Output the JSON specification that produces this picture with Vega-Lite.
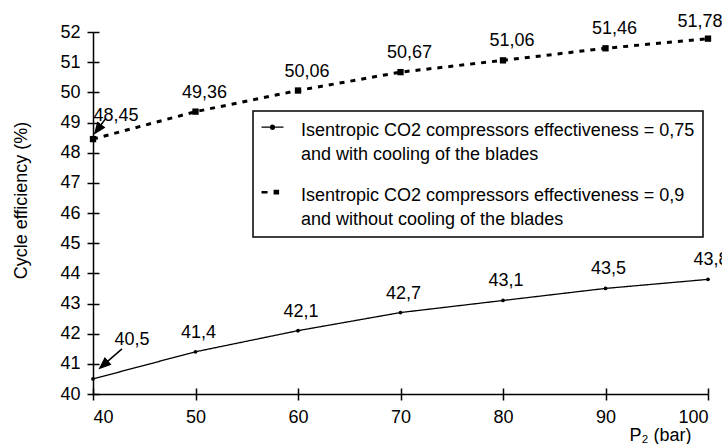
{
  "$schema": "https://vega.github.io/schema/vega-lite/v6.json",
  "width": 615,
  "height": 362,
  "autosize": {"type": "none"},
  "padding": {"left": 93, "top": 32, "right": 14, "bottom": 50},
  "background": "white",
  "config": {
    "font": "Liberation Sans",
    "locale": {"number": {"decimal": ",", "thousands": ".", "grouping": [3], "currency": ["", ""]}},
    "view": {"stroke": null},
    "style": {"guide-label": {"lineHeight": 24}},
    "axis": {
      "domainColor": "black", "domainWidth": 1.5,
      "tickColor": "black", "tickWidth": 1.5, "tickSize": 6,
      "labelColor": "black", "labelFontSize": 18, "labelFont": "Liberation Sans",
      "titleFont": "Liberation Sans", "titleFontSize": 18, "titleFontWeight": "normal", "titleColor": "black",
      "grid": true, "gridColor": "black", "gridWidth": 1.5, "gridOpacity": 1, "labelOverlap": false
    },
    "legend": {
      "orient": "none", "legendX": 160, "legendY": 79,
      "strokeColor": "black", "strokeWidth": 1.5, "padding": 8, "fillColor": "white",
      "labelFont": "Liberation Sans", "labelFontSize": 18, "labelColor": "black", "labelLimit": 0,
      "symbolSize": 484, "labelOffset": 17, "rowPadding": 20,
      "symbolFillColor": "black", "symbolStrokeColor": "black", "symbolStrokeWidth": 0.5, "symbolOpacity": 1
    }
  },
  "datasets": {
    "curves": [
      {"p": 40, "eff": 40.5, "series": "Isentropic CO2 compressors effectiveness = 0,75|and with cooling of the blades"},
      {"p": 50, "eff": 41.4, "series": "Isentropic CO2 compressors effectiveness = 0,75|and with cooling of the blades"},
      {"p": 60, "eff": 42.1, "series": "Isentropic CO2 compressors effectiveness = 0,75|and with cooling of the blades"},
      {"p": 70, "eff": 42.7, "series": "Isentropic CO2 compressors effectiveness = 0,75|and with cooling of the blades"},
      {"p": 80, "eff": 43.1, "series": "Isentropic CO2 compressors effectiveness = 0,75|and with cooling of the blades"},
      {"p": 90, "eff": 43.5, "series": "Isentropic CO2 compressors effectiveness = 0,75|and with cooling of the blades"},
      {"p": 100, "eff": 43.8, "series": "Isentropic CO2 compressors effectiveness = 0,75|and with cooling of the blades"},
      {"p": 40, "eff": 48.45, "series": "Isentropic CO2 compressors effectiveness = 0,9|and without cooling of the blades"},
      {"p": 50, "eff": 49.36, "series": "Isentropic CO2 compressors effectiveness = 0,9|and without cooling of the blades"},
      {"p": 60, "eff": 50.06, "series": "Isentropic CO2 compressors effectiveness = 0,9|and without cooling of the blades"},
      {"p": 70, "eff": 50.67, "series": "Isentropic CO2 compressors effectiveness = 0,9|and without cooling of the blades"},
      {"p": 80, "eff": 51.06, "series": "Isentropic CO2 compressors effectiveness = 0,9|and without cooling of the blades"},
      {"p": 90, "eff": 51.46, "series": "Isentropic CO2 compressors effectiveness = 0,9|and without cooling of the blades"},
      {"p": 100, "eff": 51.78, "series": "Isentropic CO2 compressors effectiveness = 0,9|and without cooling of the blades"}
    ]
  },
  "data": {"name": "curves"},
  "encoding": {
    "x": {
      "field": "p", "type": "quantitative",
      "scale": {"domain": [40, 100], "nice": false, "zero": false},
      "axis": {
        "values": [40, 50, 60, 70, 80, 90, 100], "labelPadding": 8,
        "gridDash": [6, 356], "gridDashOffset": 6,
        "title": "P₂ (bar)", "titleX": 567, "titleY": 46, "titleAlign": "center", "titleBaseline": "alphabetic"
      }
    },
    "y": {
      "field": "eff", "type": "quantitative",
      "scale": {"domain": [40, 52], "nice": false, "zero": false},
      "axis": {
        "values": [40, 41, 42, 43, 44, 45, 46, 47, 48, 49, 50, 51, 52], "labelPadding": 7,
        "gridDash": [6, 3000],
        "title": "Cycle efficiency (%)", "titleX": -72, "titleY": 168, "titleAngle": -90,
        "titleAlign": "center", "titleBaseline": "middle"
      }
    }
  },
  "layer": [
    {
      "mark": {"type": "line", "color": "black"},
      "encoding": {
        "strokeDash": {
          "field": "series", "type": "nominal",
          "scale": {"range": [[1, 0], [5, 6]]},
          "legend": null
        },
        "strokeWidth": {
          "condition": {"test": "indexof(datum.series, 'without') >= 0", "value": 3},
          "value": 1.3
        }
      }
    },
    {
      "transform": [{"filter": "false"}],
      "mark": {"type": "point", "filled": true, "color": "black"},
      "encoding": {
        "shape": {
          "field": "series", "type": "nominal",
          "scale": {
            "domain": [
              "Isentropic CO2 compressors effectiveness = 0,75|and with cooling of the blades",
              "Isentropic CO2 compressors effectiveness = 0,9|and without cooling of the blades"
            ],
            "range": [
              "M-1,-0.36H-0.25V-0.24H-1ZM0.25,-0.36H1V-0.24H0.25ZM-0.25,-0.3A0.25,0.25 0 1,0 0.25,-0.3A0.25,0.25 0 1,0 -0.25,-0.3Z",
              "M-1,-0.42H-0.45V-0.18H-1ZM0.1,-0.52H0.6V-0.08H0.1Z"
            ]
          },
          "legend": {
            "title": null,
            "labelExpr": "split(datum.label, '|')",
            "labelBaseline": "middle"
          }
        }
      }
    },
    {
      "mark": {"type": "point", "filled": true, "color": "black", "opacity": 1},
      "encoding": {
        "shape": {"condition": {"test": "indexof(datum.series, 'without') >= 0", "value": "square"}, "value": "circle"},
        "size": {"condition": {"test": "indexof(datum.series, 'without') >= 0", "value": 40}, "value": 14}
      }
    },
    {
      "transform": [{"filter": "indexof(datum.series, 'without') >= 0 && datum.p > 40 && datum.p < 100"}],
      "mark": {"type": "text", "fontSize": 18, "color": "black", "dx": 9, "dy": -14, "baseline": "alphabetic", "align": "center"},
      "encoding": {"text": {"field": "eff", "type": "quantitative", "format": "~g"}}
    },
    {
      "transform": [{"filter": "indexof(datum.series, 'without') >= 0 && datum.p == 100"}],
      "mark": {"type": "text", "fontSize": 18, "color": "black", "dx": -8, "dy": -12, "baseline": "alphabetic", "align": "center"},
      "encoding": {"text": {"field": "eff", "type": "quantitative", "format": "~g"}}
    },
    {
      "transform": [{"filter": "indexof(datum.series, 'without') < 0 && datum.p > 40"}],
      "mark": {"type": "text", "fontSize": 18, "color": "black", "dx": 3, "dy": -14, "baseline": "alphabetic", "align": "center"},
      "encoding": {"text": {"field": "eff", "type": "quantitative", "format": "~g"}}
    },
    {
      "transform": [{"filter": "indexof(datum.series, 'without') >= 0 && datum.p == 40"}],
      "mark": {"type": "text", "fontSize": 18, "color": "black", "dx": 23, "dy": -18, "baseline": "alphabetic", "align": "center"},
      "encoding": {"text": {"field": "eff", "type": "quantitative", "format": "~g"}}
    },
    {
      "transform": [{"filter": "indexof(datum.series, 'without') < 0 && datum.p == 40"}],
      "mark": {"type": "text", "fontSize": 18, "color": "black", "dx": 39, "dy": -34, "baseline": "alphabetic", "align": "center"},
      "encoding": {"text": {"field": "eff", "type": "quantitative", "format": "~g"}}
    },
    {
      "transform": [{"filter": "indexof(datum.series, 'without') >= 0 && datum.p == 40"}],
      "mark": {"type": "point", "filled": true, "color": "black", "opacity": 1, "stroke": "black", "strokeWidth": 1.5, "size": 400,
        "shape": "M0.2,-0.6L1.113,-1.17L0.469,-1.642Z M0.791,-1.406L1.3,-2.1"},
      "encoding": {}
    },
    {
      "transform": [{"filter": "indexof(datum.series, 'without') < 0 && datum.p == 40"}],
      "mark": {"type": "point", "filled": true, "color": "black", "opacity": 1, "stroke": "black", "strokeWidth": 1.5, "size": 400,
        "shape": "M0.7,-1.1L1.719,-1.451L1.195,-2.057Z M1.457,-1.754L2.9,-3"},
      "encoding": {}
    }
  ]
}
